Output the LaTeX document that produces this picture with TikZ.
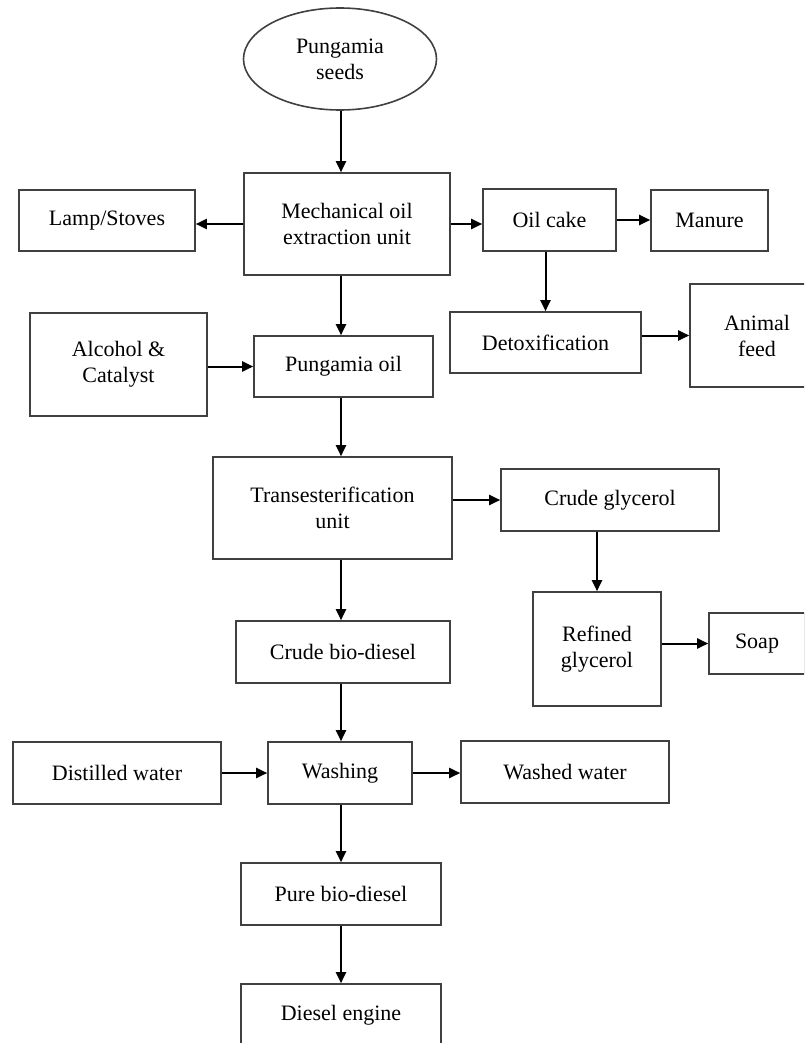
\documentclass[tikz,border=0pt]{standalone}
\usepackage{fontspec}
\setmainfont{Liberation Serif}
\usetikzlibrary{shapes.geometric,arrows.meta}

\begin{document}
\begin{tikzpicture}[x=1pt,y=-1pt,inner sep=1mm]
    \tikzstyle{unit}=[rectangle,draw=black!75,line width=1.6pt,align=center,font=\fontsize{22}{26}\selectfont]
    \tikzstyle{flow}=[-{Triangle[length=11pt,width=10pt]},line width=2pt]
    \useasboundingbox (0,0) rectangle (804,1043);
    \clip (0,0) rectangle (804,1043);

    % extraction
    \node[unit,ellipse,minimum width=193pt,minimum height=102pt] (seeds) at (340,59) {Pungamia\\seeds};
    \node[unit,minimum width=206pt,minimum height=102pt] (mech) at (347,224) {Mechanical oil\\extraction unit};
    \node[unit,minimum width=176pt,minimum height=61pt] (lamp) at (107,220.5) {Lamp/Stoves};
    \node[unit,minimum width=133pt,minimum height=62pt] (cake) at (549.5,220) {Oil cake};
    \node[unit,minimum width=117pt,minimum height=61pt] (manure) at (709.5,220.5) {Manure};
    \node[unit,minimum width=191pt,minimum height=61pt] (detox) at (545.5,342.5) {Detoxification};
    \node[unit,minimum width=134pt,minimum height=103pt] (feed) at (757,335.5) {Animal\\feed};
    \node[unit,minimum width=177pt,minimum height=103pt] (alcohol) at (118.5,364.5) {Alcohol \&\\Catalyst};
    \node[unit,minimum width=179pt,minimum height=61pt] (oil) at (343.5,366.5) {Pungamia oil};

    % conversion
    \node[unit,minimum width=239pt,minimum height=102pt] (trans) at (332.5,508) {Transesterification\\unit};
    \node[unit,minimum width=218pt,minimum height=62pt] (cglyc) at (610,500) {Crude glycerol};
    \node[unit,minimum width=128pt,minimum height=114pt] (rglyc) at (597,649) {Refined\\glycerol};
    \node[unit,minimum width=96pt,minimum height=61pt] (soap) at (757,643.5) {Soap};
    \node[unit,minimum width=214pt,minimum height=62pt] (cbio) at (343,652) {Crude bio-diesel};
    \node[unit,minimum width=208pt,minimum height=62pt] (dist) at (117,773) {Distilled water};
    \node[unit,minimum width=144pt,minimum height=62pt] (wash) at (340,773) {Washing};
    \node[unit,minimum width=208pt,minimum height=62pt] (wwater) at (565,772) {Washed water};
    \node[unit,minimum width=200pt,minimum height=62pt] (pure) at (341,894) {Pure bio-diesel};
    \node[unit,minimum width=200pt,minimum height=62pt] (engine) at (341,1015) {Diesel engine};

    \coordinate (col) at (341,0);
    \foreach \a/\b in {seeds/mech,mech/oil,oil/trans,trans/cbio,cbio/wash,wash/pure,pure/engine} {
        \draw[flow] (\a.south -| col) -- (\b.north -| col);
    };
    \draw[flow] (cake.south -| detox.north) -- (detox.north);
    \draw[flow] (cglyc.south -| rglyc.north) -- (rglyc.north);

    \draw[flow] (mech.west) -- (mech.west -| lamp.east);
    \draw[flow] (mech.east) -- (mech.east -| cake.west);
    \draw[flow] (cake.east) -- (cake.east -| manure.west);
    \foreach \a/\b in {detox/feed,alcohol/oil,trans/cglyc,rglyc/soap,dist/wash} {
        \draw[flow] (\a.east |- \b.west) -- (\b.west);
    };
    \draw[flow] (wash.east) -- (wash.east -| wwater.west);
\end{tikzpicture}
\end{document}
